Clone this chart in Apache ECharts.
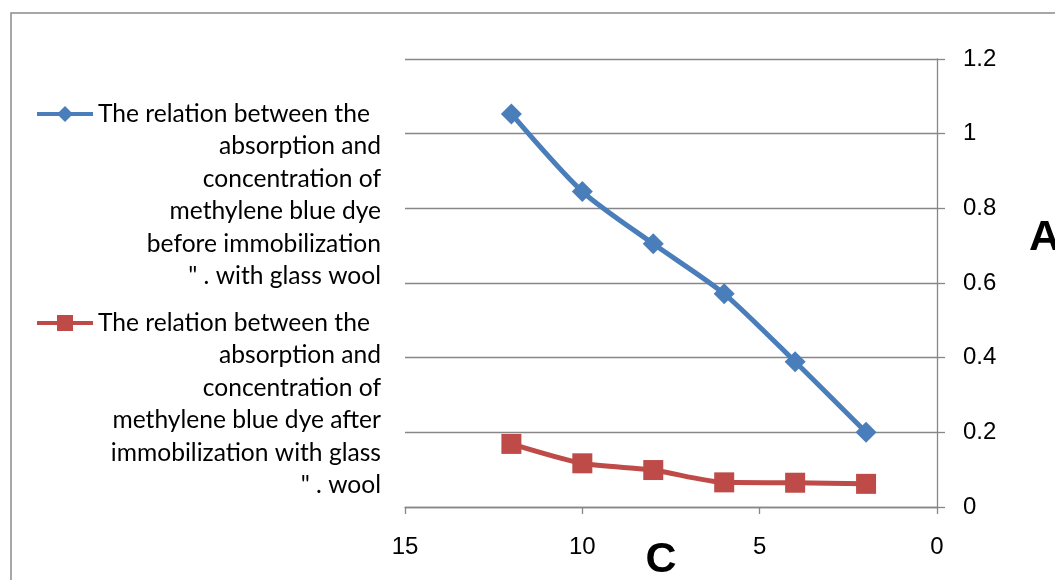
<!DOCTYPE html>
<html>
<head>
<meta charset="utf-8">
<script src="https://cdn.jsdelivr.net/npm/echarts@6/dist/echarts.min.js"></script>
<style>
html,body{margin:0;padding:0;background:#fff;}
#chart{width:1055px;height:580px;}
</style>
</head>
<body>
<div id="chart"></div>
<script>
// Data
const concentration = [12, 10, 8, 6, 4, 2];
const absorbBefore = [1.053, 0.845, 0.705, 0.571, 0.389, 0.200];
const absorbAfter = [0.169, 0.117, 0.099, 0.066, 0.065, 0.062];
const xTicks = [0, 5, 10, 15];
const yTicks = [0, 0.2, 0.4, 0.6, 0.8, 1, 1.2];

const nameBeforeLines = ['The relation between the', 'absorption and', 'concentration of', 'methylene blue dye', 'before immobilization', '" . with glass wool'];
const nameAfterLines = ['The relation between the', 'absorption and', 'concentration of', 'methylene blue dye after', 'immobilization with glass', '" . wool'];
const nameBefore = nameBeforeLines.join(' ');
const nameAfter = nameAfterLines.join(' ');

const blue = '#4a7ebb';
const red = '#be4b48';
const gridColor = '#878787';

function pairs(xs, ys) { return xs.map((x, i) => [x, ys[i]]); }

const LH = 32.4;
const legendFont = { fontFamily: 'Lato', fontSize: 24.6, color: '#000', lineHeight: LH };
function legendText(lines) {
  return lines.map((l, i) => (i === 0 ? '{l|' : '{r|') + l + '}').join('\n');
}
function makeLegend(name, lines, iconCenterY) {
  return {
    show: true,
    orient: 'vertical',
    left: 35,
    top: iconCenterY - (11 * LH) / 2,
    padding: 0,
    itemWidth: 56,
    itemHeight: 20,
    itemGap: 0,
    data: [name],
    lineStyle: { width: 4 },
    formatter: function () { return legendText(lines); },
    textStyle: Object.assign({}, legendFont, {
      width: 283,
      padding: [5 * LH, 0, 0, 0],
      backgroundColor: 'rgba(255,255,255,0)',
      rich: {
        l: Object.assign({ align: 'left' }, legendFont),
        r: Object.assign({ align: 'right' }, legendFont)
      }
    })
  };
}

const chart = echarts.init(document.getElementById('chart'), null, { renderer: 'canvas' });
const yMax = yTicks[yTicks.length - 1];
const xMax = xTicks[xTicks.length - 1];
chart.setOption({
  animation: false,
  backgroundColor: '#fff',
  graphic: [{
    type: 'rect',
    shape: { x: 11, y: 13, width: 1200, height: 800 },
    style: { fill: 'none', stroke: '#8a8a8a', lineWidth: 1.5 },
    silent: true
  }],
  legend: [
    makeLegend(nameBefore, nameBeforeLines, 114),
    makeLegend(nameAfter, nameAfterLines, 323)
  ],
  grid: { left: 405, right: 118, top: 59, bottom: 73, containLabel: false, outerBoundsMode: 'none' },
  xAxis: {
    type: 'value',
    min: 0, max: xMax, interval: 5,
    inverse: true,
    name: 'C',
    nameLocation: 'middle',
    nameGap: 32,
    nameMoveOverlap: false,
    nameTextStyle: { fontFamily: 'Liberation Sans', fontWeight: 'bold', fontSize: 43, color: '#000', verticalAlign: 'top', padding: [0, 20, 0, 0] },
    axisLine: { show: true, lineStyle: { color: gridColor, width: 1.3 } },
    axisTick: { show: true, inside: false, length: 7, lineStyle: { color: gridColor, width: 1.3 } },
    axisLabel: { fontFamily: 'Liberation Sans', fontSize: 24, color: '#000', margin: 28 },
    splitLine: { show: false }
  },
  yAxis: {
    type: 'value',
    position: 'right',
    min: 0, max: yMax, interval: 0.2,
    name: 'A',
    nameLocation: 'middle',
    nameRotate: 0,
    nameGap: 92,
    nameMoveOverlap: false,
    nameTextStyle: { fontFamily: 'Liberation Sans', fontWeight: 'bold', fontSize: 43, color: '#000', align: 'left', verticalAlign: 'bottom', lineHeight: 90 },
    axisLine: { show: true, lineStyle: { color: gridColor, width: 1.3 } },
    axisTick: { show: true, inside: false, length: 8, lineStyle: { color: gridColor, width: 1.3 } },
    axisLabel: { fontFamily: 'Liberation Sans', fontSize: 24, color: '#000', margin: 26 },
    splitLine: { show: true, lineStyle: { color: gridColor, width: 1.3 } }
  },
  series: [
    {
      name: nameBefore,
      type: 'line',
      data: pairs(concentration, absorbBefore),
      smooth: 0.25,
      symbol: 'diamond',
      symbolSize: 21,
      lineStyle: { color: blue, width: 5 },
      itemStyle: { color: blue },
      z: 3
    },
    {
      name: nameAfter,
      type: 'line',
      data: pairs(concentration, absorbAfter),
      smooth: 0.25,
      symbol: 'rect',
      symbolSize: 20,
      lineStyle: { color: red, width: 5 },
      itemStyle: { color: red },
      z: 3
    }
  ]
});
</script>
</body>
</html>
